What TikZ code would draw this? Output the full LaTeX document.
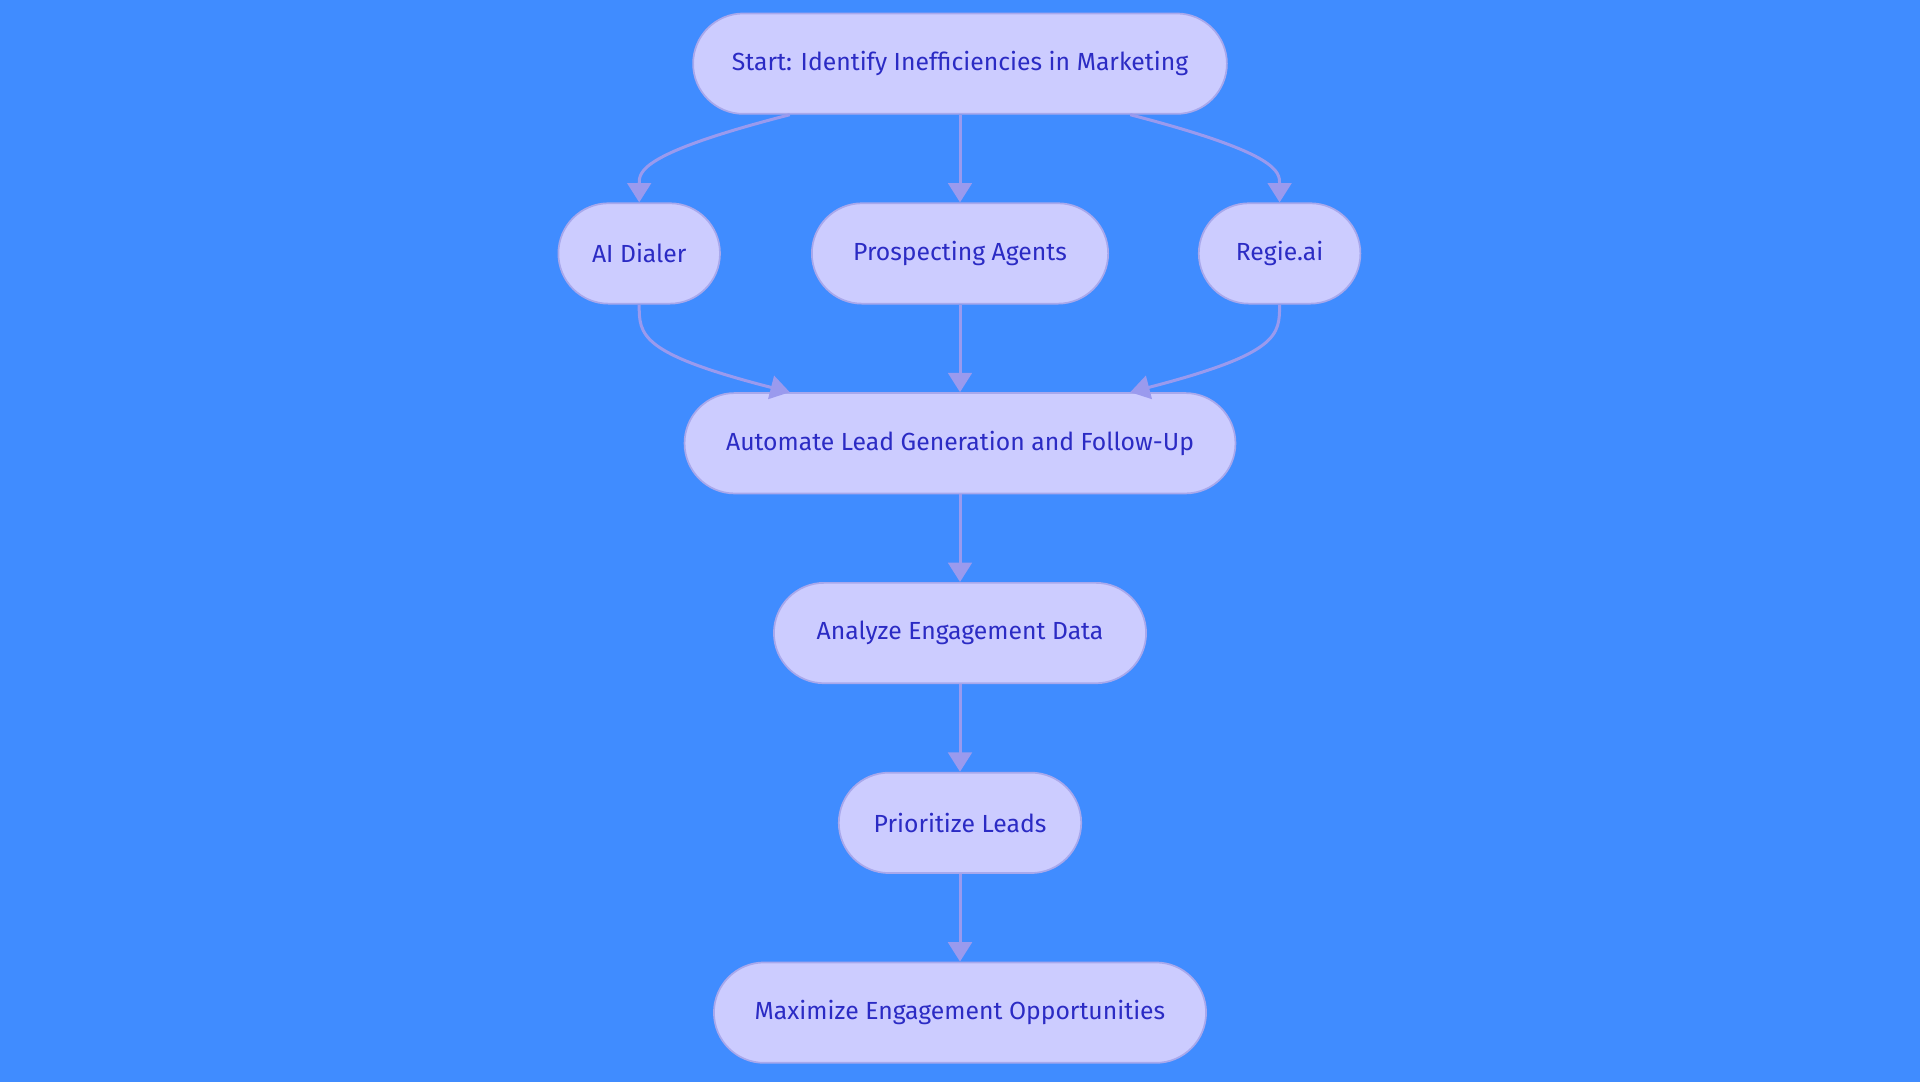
\documentclass[tikz,border=0pt]{standalone}
\usepackage{fontspec}
\setmainfont{Fira Sans}
\usetikzlibrary{calc,arrows.meta}

\definecolor{bgblue}{HTML}{408CFF}
\definecolor{boxfill}{HTML}{CCCCFF}
\definecolor{boxline}{HTML}{A8A8EC}
\definecolor{boxtext}{HTML}{2B2BC4}
\definecolor{edgecol}{HTML}{9A9AEE}

\tikzset{
  stage/.style={draw=boxline,fill=boxfill,text=boxtext,line width=0.8pt,
    rounded corners=0.82cm,minimum height=1.64cm,font=\fontsize{11.5}{13}\selectfont,inner sep=0pt},
  flow/.style={draw=edgecol,line width=1.4pt,-{Triangle[length=9pt,width=11pt]}}
}

\begin{document}
\begin{tikzpicture}[x=0.02cm,y=-0.02cm]
  \path[fill=bgblue] (0,0) rectangle (1568,884);

  \node[stage,minimum width=8.72cm] (start) at (784,52) {Start: Identify Inefficiencies in Marketing};
  \node[stage,minimum width=2.64cm] (dialer) at (522,207) {AI Dialer};
  \node[stage,minimum width=4.84cm] (agents) at (784,207) {Prospecting Agents};
  \node[stage,minimum width=2.64cm] (regie) at (1045,207) {Regie.ai};
  \node[stage,minimum width=9.00cm] (automate) at (784,362) {Automate Lead Generation and Follow-Up};
  \node[stage,minimum width=6.08cm] (analyze) at (784,517) {Analyze Engagement Data};
  \node[stage,minimum width=3.96cm] (prior) at (784,672) {Prioritize Leads};
  \node[stage,minimum width=8.04cm] (maxim) at (784,827) {Maximize Engagement Opportunities};

  % fan out
  \draw[flow] ($(start.south)+(-139,0)$) .. controls ($(dialer.north)+(0,-40)$) and ($(dialer.north)+(0,-25)$) .. (dialer.north);
  \draw[flow] (start) -- (agents);
  \draw[flow] ($(start.south)+(139,0)$) .. controls ($(regie.north)+(0,-40)$) and ($(regie.north)+(0,-25)$) .. (regie.north);

  % fan in
  \draw[flow] (dialer.south) .. controls ($(dialer.south)+(0,25)$) and ($(dialer.south)+(0,40)$) .. ($(automate.north)+(-139,0)$);
  \draw[flow] (agents) -- (automate);
  \draw[flow] (regie.south) .. controls ($(regie.south)+(0,25)$) and ($(regie.south)+(0,40)$) .. ($(automate.north)+(139,0)$);

  \draw[flow] (automate) -- (analyze);
  \draw[flow] (analyze) -- (prior);
  \draw[flow] (prior) -- (maxim);
\end{tikzpicture}
\end{document}
